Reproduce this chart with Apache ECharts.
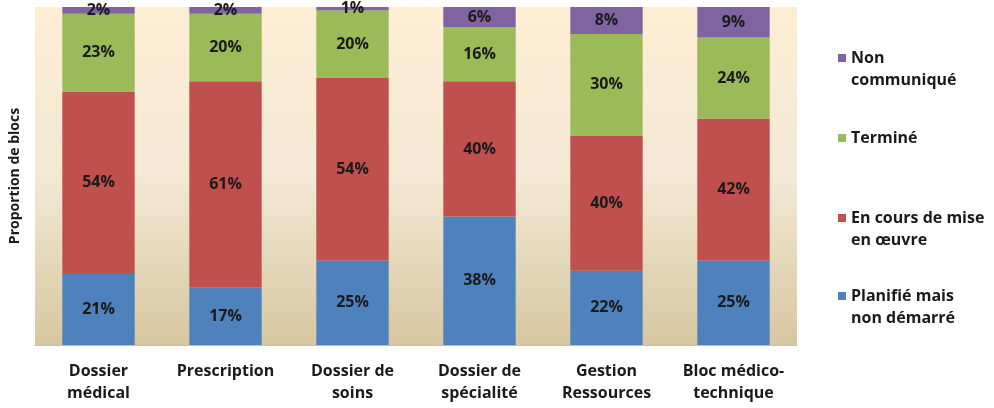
<!DOCTYPE html>
<html>
<head>
<meta charset="utf-8">
<script src="https://cdn.jsdelivr.net/npm/echarts@6/dist/echarts.min.js"></script>
<style>
  html, body { margin: 0; padding: 0; background: #ffffff; }
  #chart { width: 994px; height: 408px; }
</style>
</head>
<body>
<div id="chart"></div>
<script>
// Modules (two-line labels use \n)
const categories = [
  'Dossier\nmédical',
  'Prescription',
  'Dossier de\nsoins',
  'Dossier de\nspécialité',
  'Gestion\nRessources',
  'Bloc médico-\ntechnique'
];

// Share of blocks per status, in percent
const planifie = [21, 17, 25, 38, 22, 25];
const enCours = [54, 61, 54, 40, 40, 42];
const termine = [23, 20, 20, 16, 30, 24];
const nonCommunique = [2, 2, 1, 6, 8, 9];

const seriesNames = ['Planifié mais\nnon démarré', 'En cours de mise\nen œuvre', 'Terminé', 'Non\ncommuniqué'];
const seriesData = [planifie, enCours, termine, nonCommunique];
const seriesColors = ['#4F81BD', '#C0504D', '#9BBB59', '#8064A2'];

const FONT = '"Open Sans", Lato, sans-serif';
const TEXT_COLOR = '#1a1a1a';

// Legend marker placed beside the first text line of a two-line entry
const twoLineIcon = 'path://M0,7h8v8h-8z M0,0h0.01v0.01h-0.01z M7.99,43.99h0.01v0.01h-0.01z';

function legendFor(name, top, twoLines) {
  return {
    data: [name],
    left: 838,
    top: top,
    orient: 'vertical',
    padding: 0,
    itemWidth: 8,
    itemHeight: twoLines ? 44 : 8,
    icon: twoLines ? twoLineIcon : 'rect',
    selectedMode: false,
    textStyle: {
      fontFamily: FONT,
      fontWeight: 'bold',
      fontSize: 16,
      lineHeight: 22,
      color: TEXT_COLOR
    }
  };
}

const chart = echarts.init(document.getElementById('chart'), null, { renderer: 'canvas' });

chart.setOption({
  animation: false,
  grid: {
    left: 30,
    right: 197,
    top: 7,
    bottom: 63,
    show: true,
    borderWidth: 0,
    backgroundColor: new echarts.graphic.LinearGradient(0, 0, 0, 1, [
      { offset: 0, color: '#FDEDD3' },
      { offset: 0.5, color: '#F3E9D5' },
      { offset: 1, color: '#D6C7A0' }
    ])
  },
  legend: [
    legendFor(seriesNames[3], 47, true),
    legendFor(seriesNames[2], 127, false),
    legendFor(seriesNames[1], 207, true),
    legendFor(seriesNames[0], 285, true)
  ],
  xAxis: {
    type: 'category',
    data: categories,
    axisLine: { show: true, lineStyle: { color: '#BFBFBF', width: 1 } },
    axisTick: { show: false },
    axisLabel: {
      interval: 0,
      margin: 15,
      fontFamily: FONT,
      fontWeight: 'bold',
      fontSize: 16,
      lineHeight: 22,
      color: TEXT_COLOR
    }
  },
  yAxis: {
    type: 'value',
    min: 0,
    max: 100,
    axisLine: { show: false },
    axisTick: { show: false },
    axisLabel: { show: false },
    splitLine: { show: false },
    name: 'Proportion de blocs',
    nameLocation: 'middle',
    nameRotate: 90,
    nameGap: 13,
    nameTextStyle: {
      fontFamily: FONT,
      fontWeight: 'bold',
      fontSize: 14,
      color: TEXT_COLOR
    }
  },
  series: seriesData.map((values, i) => ({
    name: seriesNames[i],
    type: 'bar',
    stack: 'total',
    data: values,
    barCategoryGap: '43%',
    itemStyle: { color: seriesColors[i] },
    label: {
      show: true,
      position: 'inside',
      formatter: '{c}%',
      fontFamily: FONT,
      fontWeight: 'bold',
      fontSize: 16,
      color: TEXT_COLOR
    }
  }))
});
</script>
</body>
</html>
